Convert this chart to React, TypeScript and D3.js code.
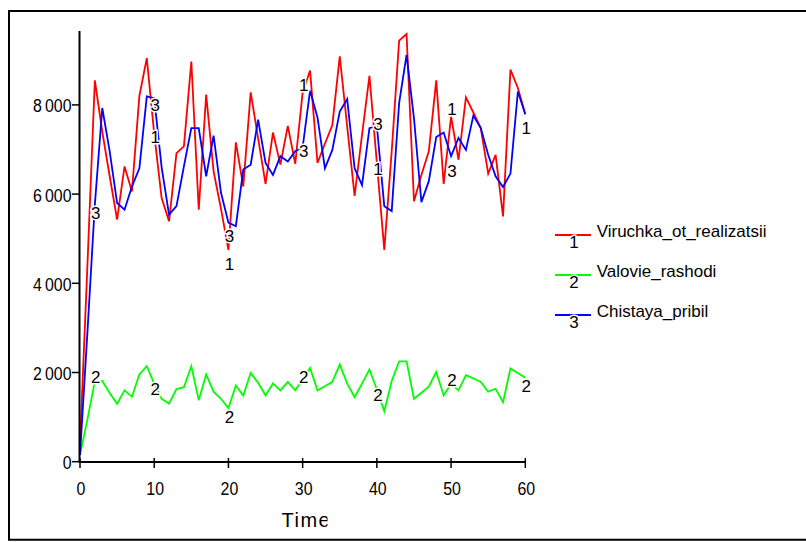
import React from "react";
import * as d3 from "d3";

const times: number[] = d3.range(0, 61);

const viruchka: number[] = [
  400, 4400, 8550, 7400, 6400, 5430, 6620, 6060, 8200, 9050,
  7350, 5910, 5390, 6920, 7070, 8970, 5650, 8230, 6510, 5670,
  4750, 7160, 6170, 8280, 7250, 6230, 7380, 6660, 7530, 6680,
  8280, 8770, 6700, 7130, 7550, 9090, 7520, 5960, 7330, 8650,
  6700, 4750, 6960, 9440, 9590, 5840, 6430, 6960, 8550, 6230,
  7740, 6770, 8170, 7830, 7480, 6460, 6880, 5500, 8790, 8380,
  7790,
];

const valovie: number[] = [
  150, 950, 1800, 1810, 1540, 1300, 1600, 1455, 1955, 2140,
  1750, 1410, 1300, 1630, 1670, 2140, 1380, 1955, 1570, 1410,
  1200, 1710, 1485, 1990, 1770, 1485, 1755, 1600, 1790, 1600,
  1850, 2100, 1600, 1690, 1790, 2180, 1750, 1450, 1750, 2070,
  1620, 1130, 1810, 2250, 2250, 1410, 1545, 1680, 2015, 1485,
  1750, 1600, 1940, 1870, 1790, 1570, 1635, 1335, 2090, 1990,
  1880,
];

const chistaya: number[] = [
  150, 2900, 5760, 7930, 6960, 5800, 5650, 6170, 6580, 8190,
  8150, 6600, 5540, 5730, 6620, 7480, 7480, 6400, 7310, 6030,
  5360, 5280, 6550, 6660, 7670, 6700, 6430, 6850, 6730, 6960,
  7050, 8320, 7720, 6580, 6990, 7850, 8130, 6580, 6200, 7480,
  7530, 5730, 5620, 8040, 9120, 7700, 5820, 6290, 7280, 7380,
  6850, 7260, 6990, 7760, 7480, 6880, 6400, 6160, 6460, 8300,
  7790,
];

const seriesNames: string[] = ["Viruchka_ot_realizatsii", "Valovie_rashodi", "Chistaya_pribil"];
const seriesMarks: string[] = ["1", "2", "3"];
const xTicks: number[] = [0, 10, 20, 30, 40, 50, 60];
const yTicks: number[] = [0, 2000, 4000, 6000, 8000];
const xTitle = "Time";

// label positions (time index) per series
const redLabelTimes: number[] = [10, 20, 30, 40, 50, 60];
const greenLabelTimes: number[] = [2, 10, 20, 30, 40, 50, 60];
const blueLabelTimes: number[] = [2, 10, 20, 30, 40, 50];

// layout: vertical nudges of the marks relative to the data point (px)
const redLabelDy: number[] = [4, 15, -7, 7, -7, 14];
const greenLabelDy: number[] = [-4, 6, 9, -2, 6, -3, 9];
const blueLabelDy: number[] = [9, 7, 14, 4, -1, 15];

const colors = ["#ff0000", "#00ff00", "#0000ff"];

export default function App() {
  const x = d3.scaleLinear().domain([0, 60]).range([80, 525.3]);
  const y = d3.scaleLinear().domain([0, 8000]).range([461.7, 104.9]);

  const series = [viruchka, valovie, chistaya];
  const labelTimes = [redLabelTimes, greenLabelTimes, blueLabelTimes];
  const labelDy = [redLabelDy, greenLabelDy, blueLabelDy];

  const line = (vals: number[]) =>
    d3
      .line<number>()
      .x((_, i) => x(times[i]))
      .y((d) => y(d))(vals) as string;

  const fmt = (v: number) => d3.format(",")(v).replace(/,/g, "\u2009");
  const font = "'Liberation Sans', Arial, sans-serif";
  const legendY = [235, 275, 315];

  return (
    <svg
      width={806}
      height={542}
      style={{ position: "absolute", left: 0, top: 0, background: "#fff" }}
      fontFamily={font}
    >
      <defs>
        <clipPath id="timeclip">
          <rect x={270} y={500} width={57.5} height={40} />
        </clipPath>
      </defs>
      <rect x={0} y={0} width={806} height={542} fill="#fff" />
      {/* frame */}
      <path d="M806,11 H9 V539.7 H806" fill="none" stroke="#000" strokeWidth={2} />

      {/* series lines */}
      {series.map((vals, k) => (
        <path key={k} d={line(vals)} fill="none" stroke={colors[k]} strokeWidth={1.8} strokeLinejoin="miter" />
      ))}

      {/* series marks */}
      {series.map((vals, k) =>
        labelTimes[k].map((t, j) => (
          <text
            key={`${k}-${j}`}
            x={x(t) + 1}
            y={y(vals[t]) + labelDy[k][j]}
            textAnchor="middle"
            dominantBaseline="central"
            fontSize={17}
            fill="#000"
            stroke="#fff"
            strokeWidth={3}
            paintOrder="stroke"
          >
            {seriesMarks[k]}
          </text>
        ))
      )}

      {/* axes */}
      <line x1={79.5} y1={31} x2={79.5} y2={462.5} stroke="#000" strokeWidth={2} />
      <line x1={79} y1={462} x2={525.8} y2={462} stroke="#000" strokeWidth={2} />
      {yTicks.map((v) => (
        <g key={v}>
          <line x1={72} y1={y(v)} x2={80} y2={y(v)} stroke="#000" strokeWidth={1.5} />
          <text
            transform={`translate(71.5, ${y(v) + 1}) scale(0.86, 1)`}
            textAnchor="end"
            dominantBaseline="central"
            fontSize={18.5}
            fill="#000"
          >
            {fmt(v)}
          </text>
        </g>
      ))}
      {xTicks.map((t) => (
        <g key={t}>
          <line x1={x(t)} y1={458} x2={x(t)} y2={468} stroke="#000" strokeWidth={1.5} />
          <text
            transform={`translate(${x(t) + 1}, 495) scale(0.86, 1)`}
            textAnchor="middle"
            fontSize={18.5}
            fill="#000"
          >
            {t}
          </text>
        </g>
      ))}
      <g clipPath="url(#timeclip)">
        <text x={281.5} y={527.3} fontSize={20} letterSpacing={1.5} fill="#000">
          {xTitle}
        </text>
      </g>

      {/* legend */}
      {seriesNames.map((name, k) => (
        <g key={name}>
          <line x1={555} y1={legendY[k]} x2={591} y2={legendY[k]} stroke={colors[k]} strokeWidth={1.8} />
          <text
            x={574}
            y={legendY[k] + 7}
            textAnchor="middle"
            dominantBaseline="central"
            fontSize={17}
            fill="#000"
            stroke="#fff"
            strokeWidth={3}
            paintOrder="stroke"
          >
            {seriesMarks[k]}
          </text>
          <text x={596.7} y={legendY[k] + 2.3} fontSize={17} fill="#000">
            {name}
          </text>
        </g>
      ))}
    </svg>
  );
}
